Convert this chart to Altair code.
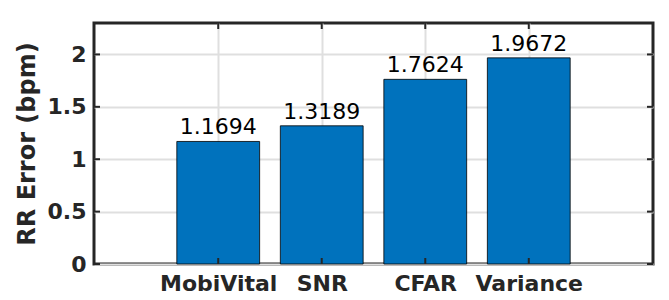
import altair as alt
import pandas as pd

categories = ["MobiVital", "SNR", "CFAR", "Variance"]
positions = [1, 2, 3, 4]
values = [1.1694, 1.3189, 1.7624, 1.9672]
labels = ["1.1694", "1.3189", "1.7624", "1.9672"]
y_ticks = [0, 0.5, 1, 1.5, 2]

W, H = 559, 241
XDOM = [-0.2, 5.2]
YDOM = [0, 2.3]
DARK = "#262626"

df = pd.DataFrame({"cat": categories, "pos": positions, "val": values, "lab": labels})
df_yt = pd.DataFrame({"y": y_ticks})
df_xt = pd.DataFrame({"x": positions})

xscale = alt.Scale(domain=XDOM, nice=False, zero=False)
yscale = alt.Scale(domain=YDOM, nice=False)

label_expr = "['', 'MobiVital', 'SNR', 'CFAR', 'Variance'][datum.value]"

base = alt.Chart(df)

bars = base.transform_calculate(
    x0="datum.pos - 0.4", x1="datum.pos + 0.4"
).mark_bar(color="#0072BD", stroke="black", strokeWidth=0.8).encode(
    x=alt.X("x0:Q", scale=xscale,
            axis=alt.Axis(values=positions, labelExpr=label_expr, title=None,
                          grid=True, gridColor="#dfdfdf", gridWidth=2,
                          tickSize=0, domain=False,
                          labelFont="DejaVu Sans", labelFontWeight="bold",
                          labelFontSize=22, labelColor=DARK, labelPadding=9)),
    x2="x1:Q",
    y=alt.Y("val:Q", scale=yscale,
            axis=alt.Axis(values=y_ticks, format="~g", title="RR Error (bpm)",
                          grid=True, gridColor="#dfdfdf", gridWidth=2,
                          tickSize=0, domain=False,
                          labelFont="DejaVu Sans", labelFontWeight="bold",
                          labelFontSize=22, labelColor=DARK, labelPadding=8,
                          titleFont="DejaVu Sans", titleFontWeight="bold",
                          titleFontSize=24, titleColor=DARK, titlePadding=8)),
    y2=alt.datum(0),
)

text = base.mark_text(font="DejaVu Sans", fontSize=22, color="black",
                      baseline="alphabetic", dy=-7).encode(
    x=alt.X("pos:Q", scale=xscale),
    y=alt.Y("val:Q", scale=yscale),
    text="lab:N",
)

tick_l = alt.Chart(df_yt).mark_rule(color=DARK, strokeWidth=2).encode(
    y=alt.Y("y:Q", scale=yscale), x=alt.datum(XDOM[0], scale=xscale), x2=alt.value(6))
tick_r = alt.Chart(df_yt).mark_rule(color=DARK, strokeWidth=2).encode(
    y=alt.Y("y:Q", scale=yscale), x=alt.datum(XDOM[1], scale=xscale), x2=alt.value(W - 6))
tick_b = alt.Chart(df_xt).mark_rule(color=DARK, strokeWidth=2).encode(
    x=alt.X("x:Q", scale=xscale), y=alt.datum(YDOM[0], scale=yscale), y2=alt.value(H - 6))
tick_t = alt.Chart(df_xt).mark_rule(color=DARK, strokeWidth=2).encode(
    x=alt.X("x:Q", scale=xscale), y=alt.datum(YDOM[1], scale=yscale), y2=alt.value(6))

chart = alt.layer(bars, text, tick_l, tick_r, tick_b, tick_t).properties(
    width=W, height=H,
    background="white",
    autosize=alt.AutoSizeParams(type="none"),
    padding={"left": 86, "top": 15, "right": 8, "bottom": 36},
).configure_view(stroke=DARK, strokeWidth=3)

chart.save("out.html", embed_options={"renderer": "svg", "actions": False})
